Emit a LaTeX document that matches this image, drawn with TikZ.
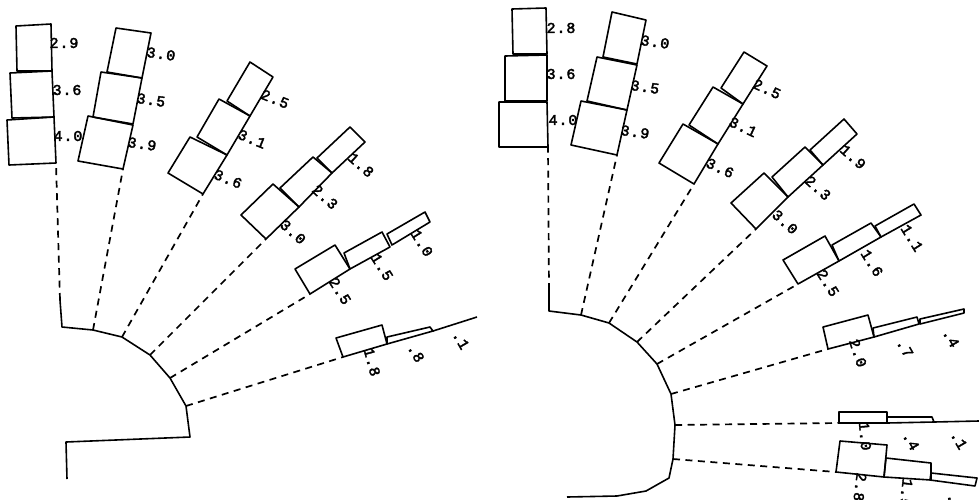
\documentclass[tikz,border=0pt]{standalone}
\usepackage{fontspec}
\newfontfamily\valfont[FakeBold=2.5,LetterSpace=6]{Liberation Mono}
\tikzset{
  barbox/.style={draw=black,line width=1.6pt,line join=round},
  guide/.style={draw=black,line width=1.7pt,dash pattern=on 7pt off 5.5pt},
  rim/.style={draw=black,line width=1.6pt,line join=round},
  val/.style={font=\valfont\fontsize{15}{16}\selectfont,inner sep=0pt,text=black}
}
\newcommand{\bbox}[4]{\draw[barbox] #1 -- #2 -- #3 -- #4 -- cycle;}
\begin{document}
\begin{tikzpicture}[x=1pt,y=-1pt]
\useasboundingbox (0,0) rectangle (979,499);
\clip (0,0) rectangle (979,499);
% ---------- left fan ----------
\draw[rim] (60,300) -- (62,327) -- (93,330) -- (122,337) -- (150,355) -- (170,378) -- (186,406) -- (190,437) -- (66,442) -- (67,479);
\coordinate (lb1) at (60,300); \coordinate (lb2) at (93,330); \coordinate (lb3) at (122,337);
\coordinate (lb4) at (150,355); \coordinate (lb5) at (170,378); \coordinate (lb6) at (186,406);
\coordinate (lt1) at (56,163); \coordinate (lt2) at (123,169); \coordinate (lt3) at (203,194);
\coordinate (lt4) at (266,239); \coordinate (lt5) at (310,294); \coordinate (lt6) at (343,357);
\foreach \i in {1,...,6} {\draw[guide] (lb\i) -- (lt\i);}
% spoke 1
\bbox{(16,26)}{(51,24)}{(52,71)}{(17,71)}
\bbox{(10,73)}{(52,71)}{(54,117)}{(12,118)}
\bbox{(7,120)}{(54,117)}{(56,163)}{(9,165)}
\node[val] (la1) at (64,43) {2.9};
\node[val] (la2) at (67,90) {3.6};
\node[val] (la3) at (68,136) {4.0};
% spoke 2
\bbox{(116,28)}{(151,33)}{(142,78)}{(107,72)}
\bbox{(101,72)}{(142,78)}{(133,124)}{(93,117)}
\bbox{(88,116)}{(133,125)}{(123,169)}{(78,161)}
\node[val,rotate=-8] (lb1t) at (161,54) {3.0};
\node[val,rotate=-8] (lb2t) at (151,100) {3.5};
\node[val,rotate=-8] (lb3t) at (142,144) {3.9};
% spoke 3
\bbox{(250,62)}{(273,77)}{(250,116)}{(227,101)}
\bbox{(219,99)}{(250,116)}{(227,155)}{(197,137)}
\bbox{(190,137)}{(227,155)}{(203,194)}{(168,173)}
\node[val,rotate=-22] (lc1) at (275,99) {2.5};
\node[val,rotate=-22] (lc2) at (252,139) {3.1};
\node[val,rotate=-22] (lc3) at (228,179) {3.6};
% spoke 4
\bbox{(350,127)}{(365,142)}{(332,173)}{(317,158)}
\bbox{(313,157)}{(332,173)}{(299,207)}{(280,188)}
\bbox{(273,184)}{(299,207)}{(266,239)}{(241,215)}
\node[val,rotate=-42] (ld1) at (361,165) {1.8};
\node[val,rotate=-42] (ld2) at (325,197) {2.3};
\node[val,rotate=-42] (ld3) at (293,232) {3.0};
% spoke 5
\bbox{(425,212)}{(430,222)}{(392,245)}{(387,234)}
\bbox{(382,232)}{(390,247)}{(350,269)}{(344,253)}
\bbox{(335,245)}{(350,269)}{(310,294)}{(295,269)}
\node[val,rotate=-58] (le1) at (422,243) {1.0};
\node[val,rotate=-58] (le2) at (382,267) {1.5};
\node[val,rotate=-58] (le3) at (340,291) {2.5};
% spoke 6
\bbox{(336,338)}{(382,325)}{(387,344)}{(343,357)}
\bbox{(387,337)}{(430,327)}{(433,331)}{(387,344)}
\draw[barbox] (433,331) -- (477,317);
\node[val,rotate=-75] (lf1) at (372,362) {1.8};
\node[val,rotate=-60] (lf2) at (416,353) {.8};
\node[val,rotate=-60] (lf3) at (461,340) {.1};
% ---------- right fan ----------
\draw[rim] (549,290) -- (549,311) -- (581,315) -- (609,323) -- (637,342) -- (657,364) -- (671,394) -- (675,425) -- (673,459) -- (669,478) -- (646,491) -- (617,496) -- (567,497);
\coordinate (rb1) at (549,290); \coordinate (rb2) at (581,315); \coordinate (rb3) at (609,323);
\coordinate (rb4) at (637,342); \coordinate (rb5) at (657,364); \coordinate (rb6) at (671,394);
\coordinate (rb7) at (675,425); \coordinate (rb8) at (673,459);
\coordinate (rt1) at (548,147); \coordinate (rt2) at (617,155); \coordinate (rt3) at (694,184);
\coordinate (rt4) at (756,229); \coordinate (rt5) at (798,284); \coordinate (rt6) at (828,349);
\coordinate (rt7) at (839,423); \coordinate (rt8) at (836,472);
\foreach \i in {1,...,8} {\draw[guide] (rb\i) -- (rt\i);}
% spoke 1
\bbox{(512,9)}{(546,8)}{(547,54)}{(513,54)}
\bbox{(505,56)}{(547,55)}{(547,101)}{(505,101)}
\bbox{(499,102)}{(547,102)}{(548,147)}{(499,147)}
\node[val] (ra1) at (561,28) {2.8};
\node[val] (ra2) at (561,74) {3.6};
\node[val] (ra3) at (563,120) {4.0};
% spoke 2
\bbox{(612,12)}{(646,20)}{(637,64)}{(603,57)}
\bbox{(597,57)}{(637,65)}{(627,110)}{(587,101)}
\bbox{(581,101)}{(627,110)}{(617,155)}{(571,145)}
\node[val,rotate=-8] (rb1t) at (655,42) {3.0};
\node[val,rotate=-8] (rb2t) at (645,87) {3.5};
\node[val,rotate=-8] (rb3t) at (635,132) {3.9};
% spoke 3
\bbox{(744,52)}{(767,66)}{(743,104)}{(721,88)}
\bbox{(713,87)}{(743,104)}{(718,144)}{(689,125)}
\bbox{(683,124)}{(718,144)}{(694,184)}{(659,163)}
\node[val,rotate=-25] (rc1) at (767,89) {2.5};
\node[val,rotate=-25] (rc2) at (743,127) {3.1};
\node[val,rotate=-25] (rc3) at (720,168) {3.6};
% spoke 4
\bbox{(844,119)}{(857,134)}{(823,165)}{(810,150)}
\bbox{(805,147)}{(823,165)}{(788,197)}{(772,177)}
\bbox{(764,173)}{(788,197)}{(756,229)}{(731,203)}
\node[val,rotate=-42] (rd1) at (853,157) {1.9};
\node[val,rotate=-42] (rd2) at (818,188) {2.3};
\node[val,rotate=-42] (rd3) at (785,222) {3.0};
% spoke 5
\bbox{(914,204)}{(921,215)}{(881,237)}{(875,226)}
\bbox{(871,223)}{(881,237)}{(839,261)}{(832,245)}
\bbox{(825,236)}{(839,261)}{(798,284)}{(783,260)}
\node[val,rotate=-58] (re1) at (912,238) {1.1};
\node[val,rotate=-58] (re2) at (872,263) {1.6};
\node[val,rotate=-58] (re3) at (828,283) {2.5};
% spoke 6
\bbox{(823,327)}{(868,315)}{(874,337)}{(828,349)}
\bbox{(873,328)}{(917,317)}{(919,324)}{(874,337)}
\bbox{(920,319)}{(964,309)}{(964,313)}{(920,324)}
\node[val,rotate=-72] (rf1) at (858,353) {2.0};
\node[val,rotate=-60] (rf2) at (905,348) {.7};
\node[val,rotate=-60] (rf3) at (951,338) {.4};
% spoke 7
\bbox{(839,412)}{(887,412)}{(887,423)}{(839,423)}
\bbox{(887,417)}{(932,417)}{(934,422)}{(887,423)}
\draw[barbox] (934,422) -- (979,421);
\node[val,rotate=-85] (rg1) at (865,436) {1.0};
\node[val,rotate=-60] (rg2) at (911,441) {.4};
\node[val,rotate=-60] (rg3) at (959,440) {.1};
% spoke 8
\bbox{(840,441)}{(887,445)}{(884,477)}{(836,472)}
\bbox{(886,458)}{(931,463)}{(931,480)}{(884,477)}
\bbox{(931,473)}{(977,478)}{(975,486)}{(930,480)}
\node[val,rotate=-97] (rh1) at (860,487) {2.8};
\node[val,rotate=-97] (rh2) at (906,493) {1.5};
\node[val,rotate=-80] (rh3) at (954,503) {.7};
\end{tikzpicture}
\end{document}
